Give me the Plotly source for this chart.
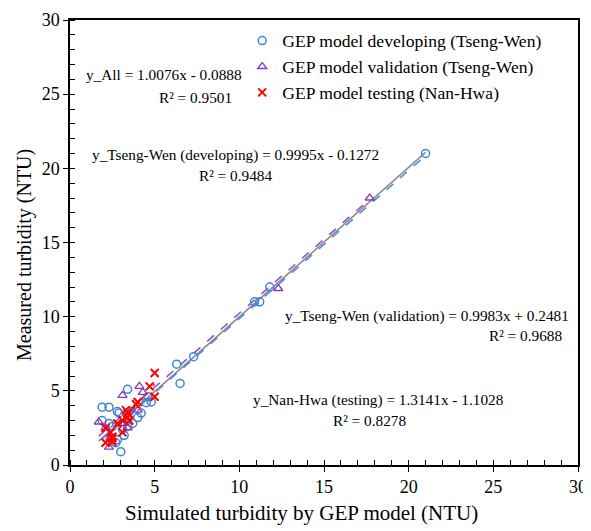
import numpy as np
import plotly.graph_objects as go

# ---- data ----
dev_x = [21.0, 11.8, 11.2, 10.9, 7.3, 6.3, 6.5, 3.4, 1.9, 2.3, 2.8, 2.9, 4.5, 4.8, 4.6,
         4.0, 4.2, 3.4, 1.9, 2.3, 2.5, 3.1, 3.2, 2.8, 2.7, 3.0, 2.4, 3.4, 3.7, 3.5]
dev_y = [21.0, 12.0, 11.0, 11.0, 7.3, 6.8, 5.5, 5.1, 3.9, 3.9, 3.6, 3.5, 4.2, 4.25, 4.6,
         3.2, 3.5, 3.2, 3.0, 2.8, 2.6, 2.4, 2.0, 1.7, 1.5, 0.9, 1.8, 2.6, 2.8, 3.6]
val_x = [17.7, 12.3, 3.1, 4.1, 4.3, 1.7, 4.0, 2.3, 2.1, 3.4, 3.2]
val_y = [18.0, 11.9, 4.7, 5.3, 4.9, 2.9, 3.7, 1.2, 2.5, 2.5, 2.8]
tst_x = [5.0, 4.7, 5.0, 4.0, 3.3, 3.4, 3.1, 3.5, 2.8, 2.1, 2.4, 2.5, 2.5, 3.1, 2.1, 2.5, 3.4, 3.9]
tst_y = [6.2, 5.3, 4.6, 4.25, 3.7, 3.2, 3.0, 3.0, 2.8, 2.5, 2.2, 1.8, 1.9, 2.2, 1.5, 1.55, 3.5, 4.1]

# trendline coefficients (slope, intercept) as printed on the chart
fit_all = (1.0076, -0.0888)
fit_dev = (0.9995, -0.1272)
fit_val = (0.9983, 0.2481)
fit_tst = (1.3141, -1.1028)

FONT = '"Liberation Serif", "Times New Roman", serif'

fig = go.Figure()

def trend(xs, coef, color, dash, name):
    x0, x1 = min(xs), max(xs)
    xx = np.array([x0, x1])
    fig.add_trace(go.Scatter(x=xx, y=coef[0] * xx + coef[1], mode="lines",
                             line=dict(color=color, width=1.6, dash=dash),
                             showlegend=False, hoverinfo="skip", name=name))

all_x = dev_x + val_x + tst_x
trend(all_x, fit_all, "#8c8c8c", "solid", "All")
trend(dev_x, fit_dev, "#4a8fe0", "dash", "dev")
trend(val_x, fit_val, "#9c4fc8", "dash", "val")
trend(tst_x, fit_tst, "#ff2020", "dash", "tst")

fig.add_trace(go.Scatter(x=dev_x, y=dev_y, mode="markers",
                         name="GEP model developing (Tseng-Wen)",
                         marker=dict(symbol="circle-open", size=8, color="#3f83d6",
                                     line=dict(width=1.5))))
fig.add_trace(go.Scatter(x=val_x, y=val_y, mode="markers",
                         name="GEP model validation (Tseng-Wen)",
                         marker=dict(symbol="triangle-up-open", size=8, color="#8a3ab9",
                                     line=dict(width=1.3))))
fig.add_trace(go.Scatter(x=tst_x, y=tst_y, mode="markers",
                         name="GEP model testing (Nan-Hwa)",
                         marker=dict(symbol="x-thin-open", size=8, color="#ff0000",
                                     line=dict(width=2, color="#ff0000"))))

ann = [
    (5.55, 26.3, "y_All = 1.0076x - 0.0888"),
    (7.4, 24.8, "R² = 0.9501"),
    (9.75, 20.9, "y_Tseng-Wen (developing) = 0.9995x - 0.1272"),
    (9.75, 19.55, "R² = 0.9484"),
    (21.1, 10.05, "y_Tseng-Wen (validation) = 0.9983x + 0.2481"),
    (26.9, 8.7, "R² = 0.9688"),
    (18.2, 4.38, "y_Nan-Hwa (testing) = 1.3141x - 1.1028"),
    (17.7, 2.97, "R² = 0.8278"),
]
for x, y, t in ann:
    fig.add_annotation(x=x, y=y, text=t, showarrow=False, xanchor="center",
                       font=dict(family=FONT, size=15.3, color="black"))

# axis titles placed as paper annotations to match the reference offsets
fig.add_annotation(xref="paper", yref="paper", x=0.456, y=-0.108, showarrow=False,
                   text="Simulated turbidity by GEP model (NTU)", xanchor="center",
                   yanchor="middle", font=dict(family=FONT, size=21, color="black"))
fig.add_annotation(xref="paper", yref="paper", x=-0.0886, y=0.472, showarrow=False,
                   text="Measured turbidity (NTU)", textangle=-90, xanchor="center",
                   yanchor="middle", font=dict(family=FONT, size=20, color="black"))

axis_common = dict(showline=True, linecolor="black", linewidth=1.5, mirror=True,
                   showgrid=False, zeroline=False, range=[0, 30], dtick=5,
                   ticks="outside", ticklen=5, tickwidth=1.3, tickcolor="black",
                   automargin=False,
                   minor=dict(dtick=1, ticks="inside", ticklen=5, tickwidth=1.1,
                              tickcolor="black", showgrid=False),
                   tickfont=dict(family=FONT, size=18, color="black"))

fig.update_layout(
    width=583, height=523,
    margin=dict(l=62, r=13, t=12, b=66),
    plot_bgcolor="white", paper_bgcolor="white",
    xaxis=dict(**axis_common),
    yaxis=dict(**axis_common),
    xaxis2=dict(overlaying="x", matches="x", range=[0, 30], dtick=5, ticks="inside",
                ticklen=5, tickwidth=1.3, tickcolor="black", showticklabels=False,
                showgrid=False, zeroline=False, side="bottom", showline=False,
                automargin=False),
    yaxis2=dict(overlaying="y", matches="y", range=[0, 30], dtick=5, ticks="inside",
                ticklen=5, tickwidth=1.3, tickcolor="black", showticklabels=False,
                showgrid=False, zeroline=False, side="left", showline=False,
                automargin=False),
    legend=dict(x=0.339, y=0.994, xanchor="left", yanchor="top",
                bgcolor="rgba(0,0,0,0)", font=dict(family=FONT, size=17.6, color="black"),
                itemwidth=30, tracegroupgap=0),
    showlegend=True,
)
# invisible trace to activate the second axes
fig.add_trace(go.Scatter(x=[0], y=[0], xaxis="x2", yaxis="y2", mode="markers",
                         marker=dict(opacity=0), showlegend=False, hoverinfo="skip"))

fig.write_html("out.html")
